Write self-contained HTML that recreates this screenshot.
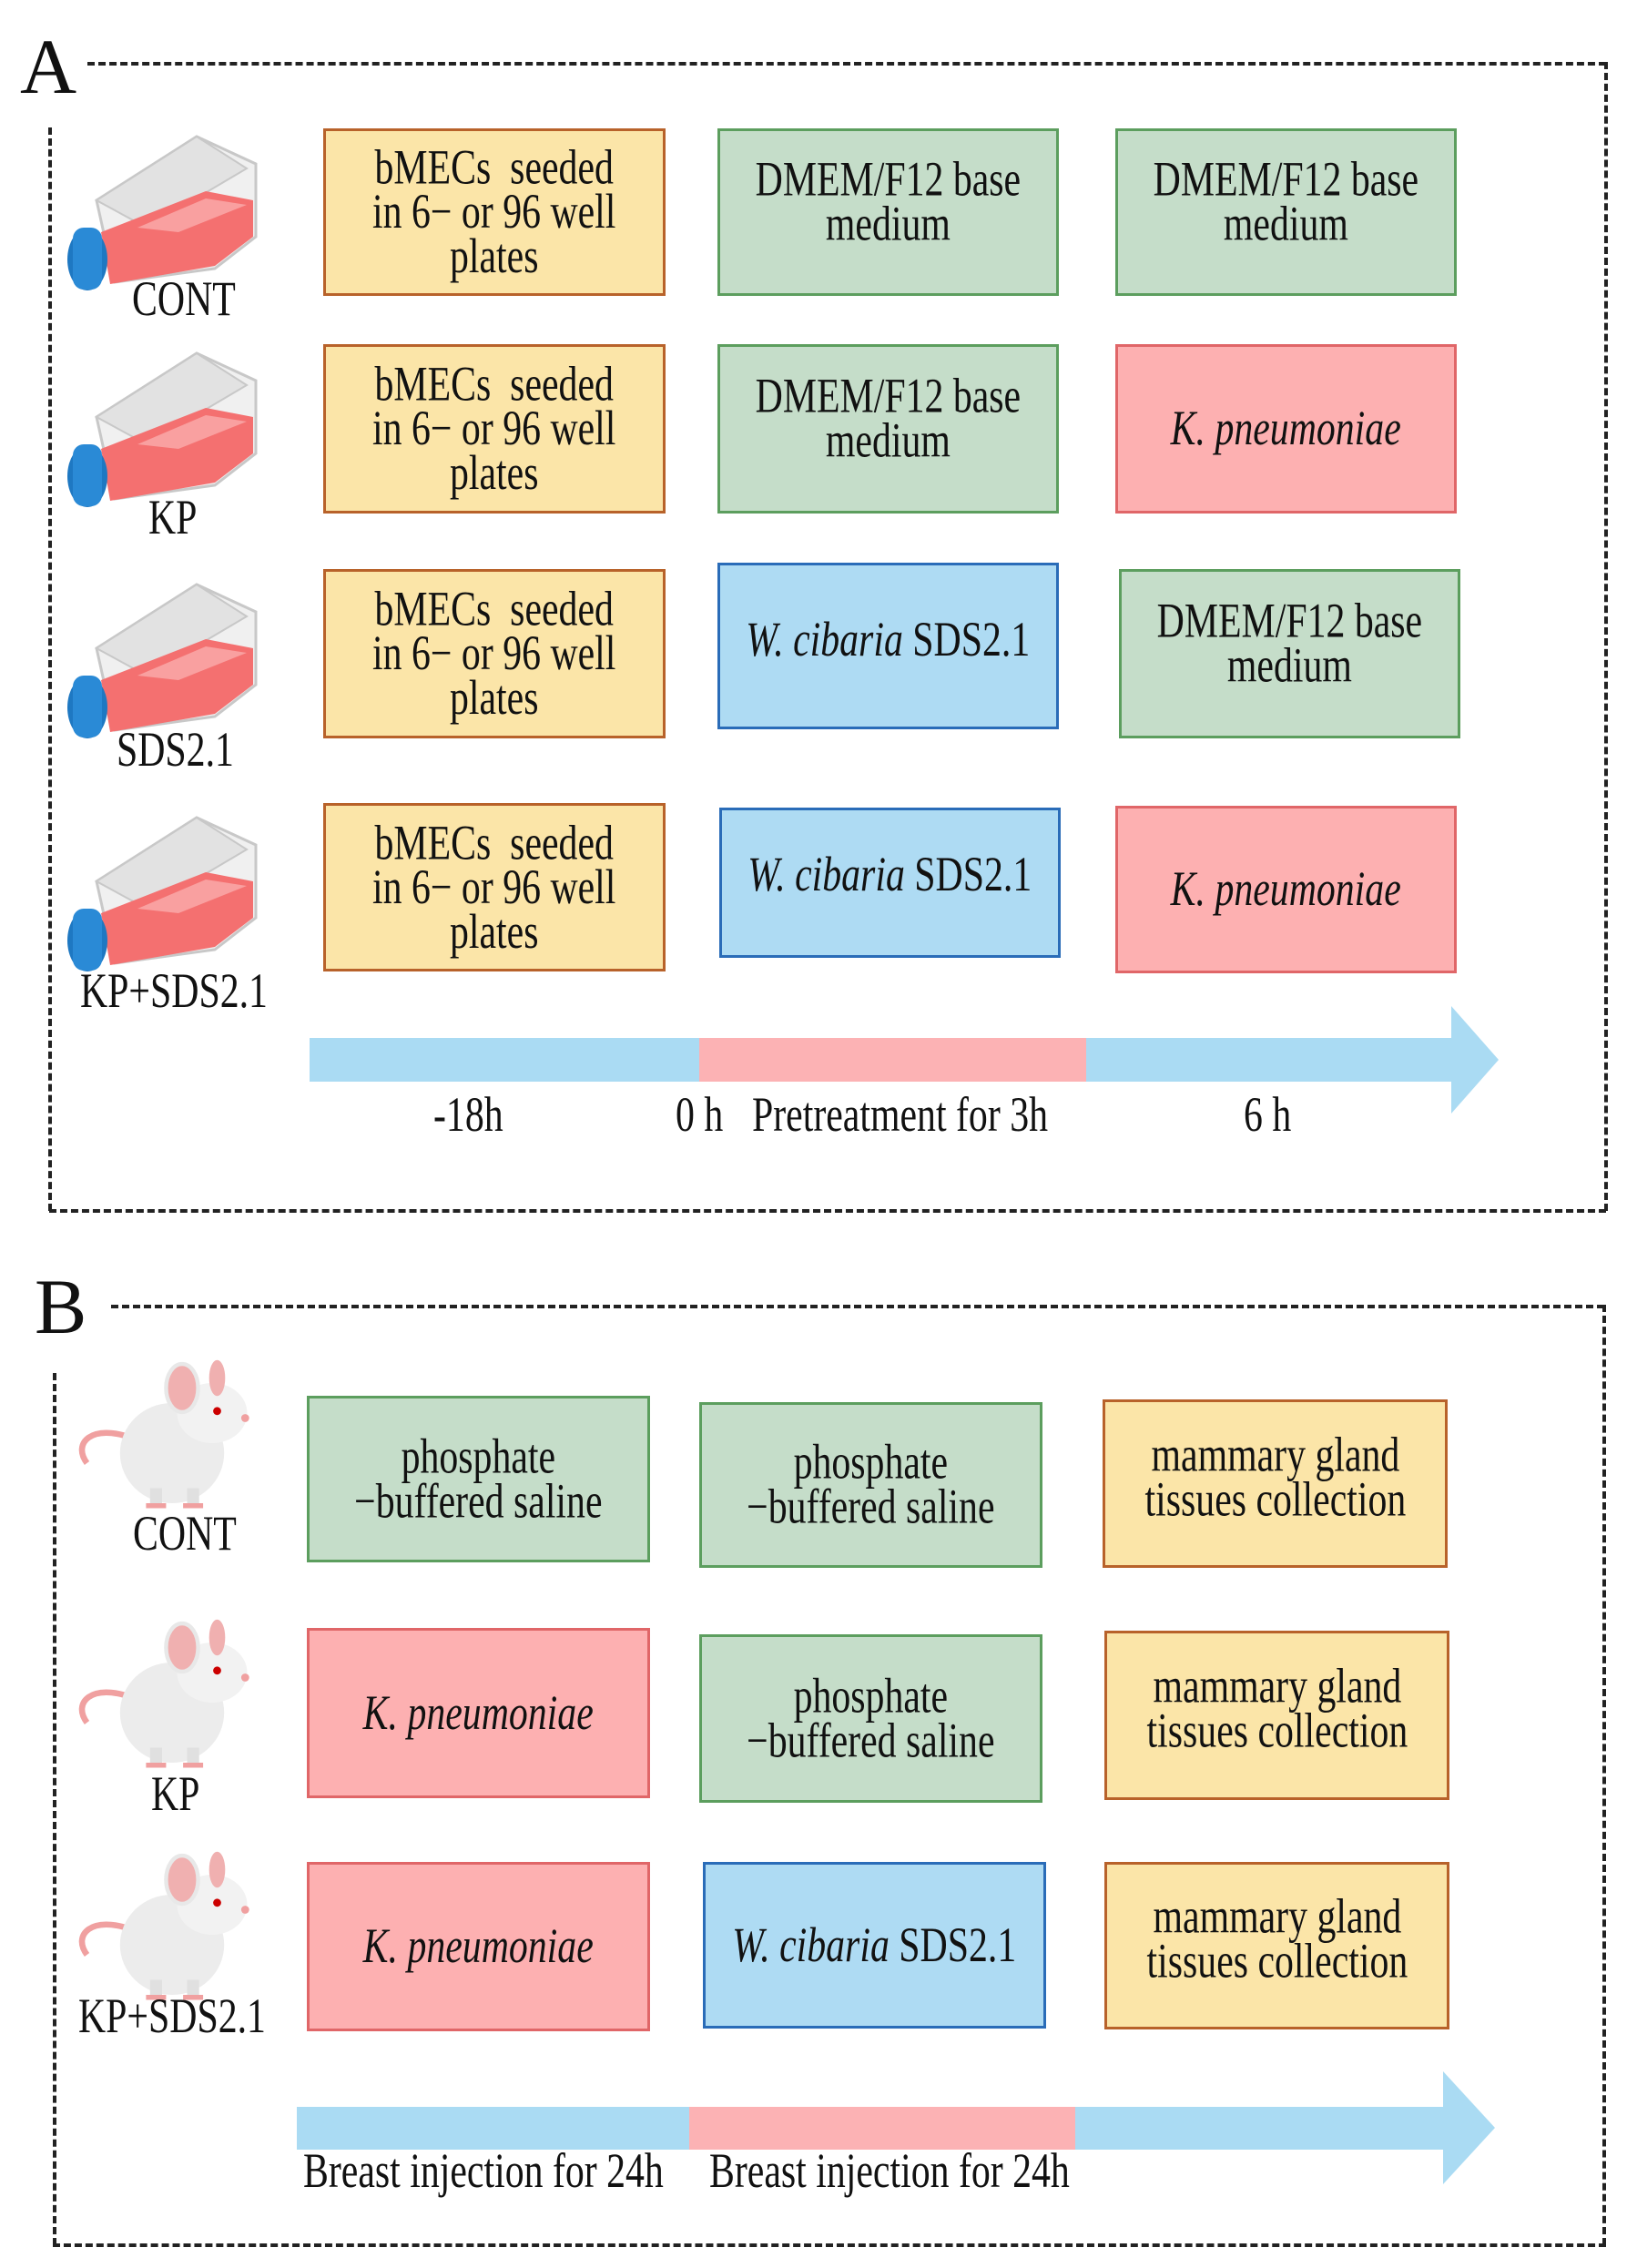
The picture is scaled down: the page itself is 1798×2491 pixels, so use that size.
<!DOCTYPE html>
<html><head><meta charset="utf-8"><style>
body{margin:0;background:#fff}
#c{position:relative;width:1798px;height:2491px;overflow:hidden;background:#fff;font-family:"Liberation Serif",serif;color:#111}
.b{position:absolute;box-sizing:border-box;border:3px solid;display:flex;align-items:center;justify-content:center;text-align:center}
.t{display:inline-block;transform:scale(0.95,1.22);font-size:44px;line-height:40px;white-space:nowrap}
.y{background:#fbe5a8;border-color:#b8622a}
.g{background:#c5ddc9;border-color:#5c9e5e}
.r{background:#fdb0b1;border-color:#e06668}
.u{background:#aedbf3;border-color:#2a6cb8}
.lab{position:absolute;font-size:44px;line-height:44px;transform:scale(0.95,1.22);transform-origin:0 0;white-space:nowrap}
.dh{position:absolute;border-top:4px dashed #222;height:0}
.dv{position:absolute;border-left:4px dashed #222;width:0}
</style></head><body><div id="c">

<div class="lab" style="left:22px;top:30px;font-size:86px;line-height:86px;transform:none">A</div>
<div class="dh" style="left:96px;top:68px;width:1668px"></div>
<div class="dv" style="left:1762px;top:68px;height:1262px"></div>
<div class="dh" style="left:54px;top:1328px;width:1710px"></div>
<div class="dv" style="left:53px;top:140px;height:1190px"></div>

<svg style="position:absolute;left:0;top:0" width="1798" height="2491">
<defs>
<g id="fl">
<polygon points="40,120 150,50 215,80 215,160 170,195 60,210" fill="#f0f0f0" stroke="#c8c8c8" stroke-width="3"/>
<polygon points="40,120 150,50 205,85 95,150" fill="#e2e2e2" stroke="#c8c8c8" stroke-width="2"/>
<polygon points="45,155 160,110 212,120 212,160 170,192 55,212" fill="#f47070"/>
<polygon points="85,150 160,118 205,125 130,155" fill="#f9a0a0"/>
<ellipse cx="30" cy="185" rx="22" ry="34" fill="#1e78c2"/>
<rect x="14" y="150" width="32" height="68" rx="12" fill="#2a8ad6"/>
</g>
<g id="ms" transform="scale(1.1)">
<path d="M70,95 C30,80 10,100 25,120" fill="none" stroke="#f0a0a0" stroke-width="6"/>
<ellipse cx="110" cy="110" rx="52" ry="50" fill="#ececec"/>
<ellipse cx="150" cy="70" rx="35" ry="30" fill="#f2f2f2"/>
<ellipse cx="120" cy="45" rx="16" ry="24" fill="#f0b0b0" stroke="#e8e8e8" stroke-width="4"/>
<ellipse cx="155" cy="35" rx="8" ry="18" fill="#f0b0b0"/>
<circle cx="155" cy="68" r="4" fill="#c00"/>
<circle cx="183" cy="75" r="4" fill="#f0a0a0"/>
<rect x="88" y="145" width="12" height="18" fill="#e0e0e0"/><rect x="125" y="145" width="12" height="18" fill="#e0e0e0"/>
<rect x="84" y="160" width="20" height="5" fill="#f0a0a0"/><rect x="121" y="160" width="20" height="5" fill="#f0a0a0"/>
</g>
</defs>
<use href="#fl" x="66" y="100"/>
<use href="#fl" x="66" y="338"/>
<use href="#fl" x="66" y="592"/>
<use href="#fl" x="66" y="848"/>
<rect x="340" y="1140" width="428" height="48" fill="#aadbf3"/>
<rect x="768" y="1140" width="425" height="48" fill="#fcb2b4"/>
<rect x="1193" y="1140" width="402" height="48" fill="#aadbf3"/>
<polygon points="1594,1105 1646,1164 1594,1223" fill="#aadbf3"/>
<rect x="326" y="2314" width="431" height="47" fill="#aadbf3"/>
<rect x="757" y="2314" width="424" height="47" fill="#fcb2b4"/>
<rect x="1181" y="2314" width="405" height="47" fill="#aadbf3"/>
<polygon points="1585,2275 1642,2337 1585,2399" fill="#aadbf3"/>
<use href="#ms" x="68" y="1475"/>
<use href="#ms" x="68" y="1760"/>
<use href="#ms" x="68" y="2015"/>
</svg>

<div class="lab" style="left:145px;top:302px">CONT</div>
<div class="lab" style="left:163px;top:542px">KP</div>
<div class="lab" style="left:128px;top:797px">SDS2.1</div>
<div class="lab" style="left:88px;top:1062px">KP+SDS2.1</div>

<div class="b y" style="left:355px;top:141px;width:376px;height:184px"><span class="t">bMECs&nbsp; seeded<br>in 6− or 96 well<br>plates</span></div>
<div class="b y" style="left:355px;top:378px;width:376px;height:186px"><span class="t">bMECs&nbsp; seeded<br>in 6− or 96 well<br>plates</span></div>
<div class="b y" style="left:355px;top:625px;width:376px;height:186px"><span class="t">bMECs&nbsp; seeded<br>in 6− or 96 well<br>plates</span></div>
<div class="b y" style="left:355px;top:882px;width:376px;height:185px"><span class="t">bMECs&nbsp; seeded<br>in 6− or 96 well<br>plates</span></div>

<div class="b g" style="left:788px;top:141px;width:375px;height:184px"><span class="t" style="margin-top:-22px">DMEM/F12 base<br>medium</span></div>
<div class="b g" style="left:788px;top:378px;width:375px;height:186px"><span class="t" style="margin-top:-22px">DMEM/F12 base<br>medium</span></div>
<div class="b u" style="left:788px;top:618px;width:375px;height:183px"><span class="t" style="margin-top:-14px"><i>W. cibaria</i> SDS2.1</span></div>
<div class="b u" style="left:790px;top:887px;width:375px;height:165px"><span class="t" style="margin-top:-18px"><i>W. cibaria</i> SDS2.1</span></div>

<div class="b g" style="left:1225px;top:141px;width:375px;height:184px"><span class="t" style="margin-top:-22px">DMEM/F12 base<br>medium</span></div>
<div class="b r" style="left:1225px;top:378px;width:375px;height:186px"><span class="t"><i>K. pneumoniae</i></span></div>
<div class="b g" style="left:1229px;top:625px;width:375px;height:186px"><span class="t" style="margin-top:-22px">DMEM/F12 base<br>medium</span></div>
<div class="b r" style="left:1225px;top:885px;width:375px;height:184px"><span class="t"><i>K. pneumoniae</i></span></div>

<div class="lab" style="left:476px;top:1198px">-18h</div>
<div class="lab" style="left:742px;top:1198px">0 h</div>
<div class="lab" style="left:826px;top:1198px">Pretreatment for 3h</div>
<div class="lab" style="left:1366px;top:1198px">6 h</div>

<div class="lab" style="left:38px;top:1392px;font-size:86px;line-height:86px;transform:none">B</div>
<div class="dh" style="left:122px;top:1433px;width:1640px"></div>
<div class="dv" style="left:1760px;top:1433px;height:1033px"></div>
<div class="dh" style="left:58px;top:2464px;width:1706px"></div>
<div class="dv" style="left:58px;top:1508px;height:958px"></div>

<div class="lab" style="left:146px;top:1658px">CONT</div>
<div class="lab" style="left:166px;top:1944px">KP</div>
<div class="lab" style="left:86px;top:2188px">KP+SDS2.1</div>

<div class="b g" style="left:337px;top:1533px;width:377px;height:183px"><span class="t">phosphate<br>−buffered saline</span></div>
<div class="b r" style="left:337px;top:1788px;width:377px;height:187px"><span class="t"><i>K. pneumoniae</i></span></div>
<div class="b r" style="left:337px;top:2045px;width:377px;height:186px"><span class="t"><i>K. pneumoniae</i></span></div>

<div class="b g" style="left:768px;top:1540px;width:377px;height:182px"><span class="t">phosphate<br>−buffered saline</span></div>
<div class="b g" style="left:768px;top:1795px;width:377px;height:185px"><span class="t">phosphate<br>−buffered saline</span></div>
<div class="b u" style="left:772px;top:2045px;width:377px;height:183px"><span class="t"><i>W. cibaria</i> SDS2.1</span></div>

<div class="b y" style="left:1211px;top:1537px;width:379px;height:185px"><span class="t" style="margin-top:-14px">mammary gland<br>tissues collection</span></div>
<div class="b y" style="left:1213px;top:1791px;width:379px;height:186px"><span class="t" style="margin-top:-14px">mammary gland<br>tissues collection</span></div>
<div class="b y" style="left:1213px;top:2045px;width:379px;height:184px"><span class="t" style="margin-top:-14px">mammary gland<br>tissues collection</span></div>

<div class="lab" style="left:333px;top:2358px">Breast injection for 24h</div>
<div class="lab" style="left:779px;top:2358px">Breast injection for 24h</div>

</div></body></html>
